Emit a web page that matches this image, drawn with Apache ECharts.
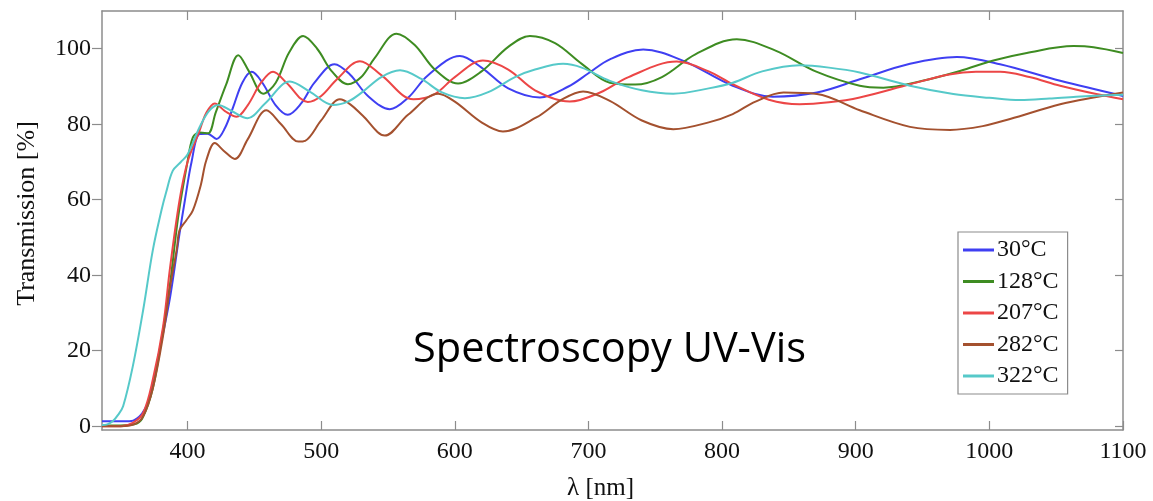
<!DOCTYPE html>
<html>
<head>
<meta charset="utf-8">
<title>UV-Vis transmission</title>
<script src="https://cdn.jsdelivr.net/npm/echarts@6/dist/echarts.min.js"></script>
<style>
  html, body { margin: 0; padding: 0; background: #ffffff; }
  #chart { width: 1153px; height: 501px; }
</style>
</head>
<body>
<div id="chart"></div>
<script>
// Transmission spectra [wavelength nm, transmission %] for each annealing temperature
const seriesNames = ['30°C', '128°C', '207°C', '282°C', '322°C'];
const seriesColors = ['#3f3ff2', '#3e8c22', '#ec4646', '#a4512f', '#56c9c9'];

const t30 = [[336,1.3],[350,1.3],[358,1.4],[364,2.6],[368,4.5],[372,7.9],[379,20],[387,34.3],[394,51],[398,59.8],[403,70],[409,77.4],[415,77.5],[421.7,76.1],[428,79],[434,84.4],[441,91],[448,93.9],[456,91],[466,85],[475,82.5],[485,85.5],[495,91],[510,95.9],[521.5,93.2],[535,87.5],[551.4,84],[565,87],[580,93],[603.8,98.1],[620,95],[640,89.5],[663.7,87.1],[685,90],[700,93.5],[716,97.2],[741,99.8],[771,96.8],[808,90.2],[838,87.3],[871,88.4],[903,91.9],[940.6,96],[975.6,97.8],[1008,95.9],[1053,91.5],[1100,87.5]];

const t128 = [[336,0.2],[350,0.2],[360,0.5],[366,2],[374,10],[381,24],[387,38],[393,55.4],[399.7,69.5],[404,76.5],[409,77.8],[415.4,77.6],[421,83],[429,90.6],[438,98.3],[446,94],[456.6,88.1],[466,91],[476,99],[486.5,103.4],[497,100],[508,94],[520,90.6],[530,92.5],[540,97.5],[556.4,104],[570,101],[585,94.5],[602.5,90.8],[620,94],[640,100.5],[656.2,103.4],[675,101.5],[695,96],[716,91],[735,90.5],[755,92.5],[780,98.5],[811,102.5],[840,99.5],[870,94],[903,90.2],[920.7,89.7],[950,91.5],[978,94.1],[1003,96.9],[1028,98.9],[1063,100.7],[1078,100.4],[1100,98.9]];

const t207 = [[336,0],[350,0],[359,0.9],[366.8,3.5],[374,12.3],[381.7,26.4],[387,42.2],[394,59.8],[400,70],[409,78.3],[414,83],[420.4,85.5],[428,83.5],[436.7,82],[445,85],[455,91],[464,93.9],[474,91],[490,85.9],[500,87.5],[512,92],[529,96.7],[545,93],[569,86.6],[585,88],[600,92.5],[621,96.9],[640,94.5],[660,89],[686,86],[708.7,88.4],[730,92.5],[766,96.6],[790,94],[808,90.6],[835,86.5],[858,85.3],[880,85.8],[903,87.1],[940.6,90.6],[970,93.2],[990,93.9],[1008,93.9],[1030,92.5],[1053,90.2],[1080,88],[1100,86.6]];

const t282 = [[336,0],[350,0],[360,0.5],[366.8,2.6],[374,10],[381.7,24],[387,37],[392,47],[394,51.9],[399,54.5],[404,57.2],[410,64],[414,70.4],[420.4,75],[427,73],[435.4,70.8],[445,76],[459,83.7],[470,80],[483,75.4],[488,75.6],[500,81],[514,86.6],[522,85.2],[531,82.3],[547.7,77],[565,82.5],[587.6,88.1],[600,86],[620,80.5],[636,78.1],[661,81.8],[680,86.5],[696,88.7],[716,86.2],[740,81],[763.5,78.7],[790,80.5],[808,82.7],[825,86],[846,88.4],[871,88],[903,83.7],[940.6,79.3],[970.6,78.5],[995,79.5],[1015.5,81.4],[1053,85.3],[1078,87.1],[1100,88.4]];

const t322 = [[336,0.3],[340,0.5],[344,1.3],[348,3],[351.8,5.3],[359,15.8],[366.8,30.8],[374,46.6],[380.5,57.2],[384,62],[389,67.7],[395,70],[400,72],[409,79.2],[416,83.5],[423,85.1],[433,83.5],[445,81.6],[458,85.5],[476.6,91.3],[492,88.5],[509,85.1],[520,86],[530,88.3],[545,92.5],[559,94.3],[575,92],[590,88.5],[607.6,86.9],[625,88.5],[645,92.5],[660,94.5],[681,96],[695,95],[716,91.5],[740,89],[763.5,88.1],[790,89.5],[808,91],[830,94],[858,95.6],[880,95],[903,93.7],[940.6,90.2],[973,88],[1000,87],[1023,86.4],[1045,86.8],[1065,87.3],[1100,87.8]];

const spectra = [t30, t128, t207, t282, t322];

// Axis ranges and tick positions
const xRange = [336, 1100];
const yRange = [-1, 110];
const xTicks = [400, 500, 600, 700, 800, 900, 1000, 1100];
const xTopTicks = [400, 500, 600, 700, 800, 900, 1000];
const yTicks = [0, 20, 40, 60, 80, 100];

const serif = 'Liberation Serif';
const axisGray = '#8c8c8c';

const chart = echarts.init(document.getElementById('chart'), null, { renderer: 'canvas' });

const frameAxis = (extra) => Object.assign({
  type: 'value',
  axisLine: { show: true, onZero: false, lineStyle: { color: axisGray, width: 1.5 } },
  splitLine: { show: false },
  axisTick: { show: true, inside: true, length: 9, lineStyle: { color: axisGray, width: 1.2 } },
  axisLabel: { show: false }
}, extra);

const plainNumber = (v) => String(v);

chart.setOption({
  animation: false,
  backgroundColor: '#ffffff',
  color: seriesColors,
  // fixed plot box; labels and names sit outside it without shrinking it
  grid: { left: 102, right: 30, top: 11, bottom: 71, containLabel: false, outerBoundsMode: 'none' },
  xAxis: [
    frameAxis({
      position: 'bottom',
      min: xRange[0], max: xRange[1],
      name: 'λ [nm]',
      nameLocation: 'middle',
      nameGap: 46,
      nameTextStyle: { fontFamily: serif, fontSize: 25, color: '#111', padding: [0, 24, 0, 0] },
      axisTick: { show: true, inside: true, length: 9, customValues: xTicks, lineStyle: { color: axisGray, width: 1.2 } },
      axisLabel: { show: true, customValues: xTicks, formatter: plainNumber, margin: 10, fontFamily: serif, fontSize: 24, color: '#111' }
    }),
    frameAxis({
      position: 'top',
      min: xRange[0], max: xRange[1],
      axisTick: { show: true, inside: true, length: 9, customValues: xTopTicks, lineStyle: { color: axisGray, width: 1.2 } }
    })
  ],
  yAxis: [
    frameAxis({
      position: 'left',
      min: yRange[0], max: yRange[1],
      name: 'Transmission [%]',
      nameLocation: 'middle',
      nameGap: 62,
      nameTextStyle: { fontFamily: serif, fontSize: 26, color: '#111', padding: [0, 0, 0, 14] },
      axisTick: { show: true, inside: false, length: 10, customValues: yTicks, lineStyle: { color: axisGray, width: 1.2 } },
      axisLabel: { show: true, customValues: yTicks, formatter: plainNumber, margin: 11, fontFamily: serif, fontSize: 24, color: '#111' }
    }),
    frameAxis({
      position: 'right',
      min: yRange[0], max: yRange[1],
      axisTick: { show: true, inside: true, length: 8, customValues: yTicks, lineStyle: { color: axisGray, width: 1.2 } }
    })
  ],
  legend: {
    orient: 'vertical',
    left: 958,
    top: 232,
    width: 110,
    padding: [6, 9, 6, 5],
    itemGap: 7.5,
    itemWidth: 31,
    itemHeight: 3,
    icon: 'rect',
    borderColor: axisGray,
    borderWidth: 1.2,
    backgroundColor: '#ffffff',
    textStyle: { fontFamily: serif, fontSize: 24, color: '#111', padding: [0, 0, 0, -2] },
    data: seriesNames
  },
  graphic: [{
    type: 'text',
    left: 413,
    top: 329,
    z: 100,
    style: {
      text: 'Spectroscopy UV-Vis',
      font: '41.5px "Open Sans"',
      fill: '#000000'
    }
  }],
  series: spectra.map((data, i) => ({
    name: seriesNames[i],
    type: 'line',
    xAxisIndex: 0,
    yAxisIndex: 0,
    data: data,
    smooth: 0.35,
    symbol: 'none',
    showSymbol: false,
    clip: true,
    lineStyle: { width: 2, color: seriesColors[i] },
    itemStyle: { color: seriesColors[i] }
  }))
});
</script>
</body>
</html>
